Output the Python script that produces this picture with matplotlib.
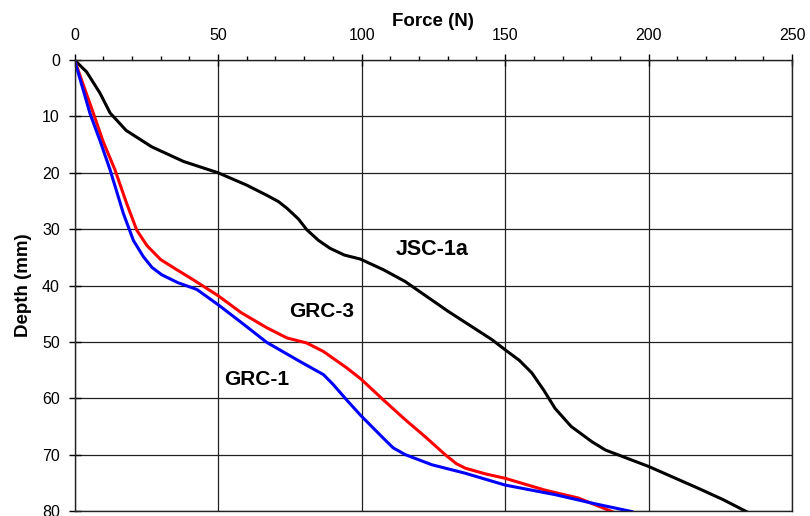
import numpy as np
from matplotlib import pyplot as plt
from matplotlib.ticker import MultipleLocator

plt.rcParams['font.family'] = ['Liberation Sans', 'DejaVu Sans']

# JSC-1a
jsc_force = [0, 4.2, 8.9, 12.4, 18, 26.9, 38, 50, 60, 67, 71, 74, 78, 80.9, 85, 89, 94, 99.5, 107.6, 115.2,
             130.2, 145.4, 150, 155, 159.3, 163.5, 167.4, 173, 180.2, 185, 190.7, 200, 217.4, 226, 234.8]
jsc_depth = [0, 2.1, 5.9, 9.4, 12.5, 15.4, 18, 20, 22.2, 24, 25.1, 26.3, 28.2, 30.1, 32, 33.4, 34.6, 35.3, 37.2, 39.3,
             44.6, 49.6, 51.4, 53.3, 55.5, 58.6, 61.8, 65, 67.7, 69.2, 70.3, 72.1, 76, 78, 80.3]

# GRC-3
grc3_force = [0, 6.6, 10, 14.1, 18.2, 21.7, 25.2, 30, 35, 41.4, 50, 58, 67, 74, 80.9, 86.7,
              94.8, 99.8, 107.6, 115.2, 122.1, 129.1, 133, 136.1, 143, 150, 163.9, 175.5, 187.2]
grc3_depth = [0, 9.5, 14.5, 19.5, 25.5, 30.2, 32.9, 35.4, 37, 39, 41.8, 44.8, 47.5, 49.3, 50.2, 51.7,
              54.6, 56.6, 60.3, 63.8, 66.8, 70, 71.6, 72.4, 73.4, 74.2, 76.3, 77.7, 80.1]

# GRC-1
grc1_force = [0, 5.4, 9, 12.4, 17, 20.5, 24, 27, 30.4, 36, 42.6, 50, 57.7, 67, 78.6, 86.7, 90,
              94.8, 99.8, 107.6, 111, 115.2, 124.5, 136.1, 150, 167.4, 180.2, 194.1]
grc1_depth = [0, 9.5, 14.5, 19.5, 27.2, 32, 34.9, 36.8, 38.1, 39.5, 40.7, 43.4, 46.4, 50.1, 53.5, 55.8, 57.5,
              60.3, 63.1, 67.1, 68.8, 70, 71.8, 73.3, 75.4, 77.1, 78.6, 80.1]

fig = plt.figure(figsize=(8.1, 5.16), dpi=100)
ax = fig.add_axes([0.092, 0.0097, 0.886, 0.874])

ax.plot(jsc_force, jsc_depth, color='black', lw=2.2)
ax.plot(grc3_force, grc3_depth, color='#ff0000', lw=2.2)
ax.plot(grc1_force, grc1_depth, color='#0000ff', lw=2.2)

ax.text(124.6, 33.7, 'JSC-1a', fontsize=15.5, fontweight='bold', ha='center', va='center')
ax.text(86.1, 44.6, 'GRC-3', fontsize=15, fontweight='bold', ha='center', va='center')
ax.text(63.5, 56.7, 'GRC-1', fontsize=15, fontweight='bold', ha='center', va='center')

ax.set_xlim(0, 250)
ax.set_ylim(80, 0)
ax.xaxis.set_major_locator(MultipleLocator(50))
ax.xaxis.set_minor_locator(MultipleLocator(10))
ax.yaxis.set_major_locator(MultipleLocator(10))
ax.xaxis.tick_top()
ax.xaxis.set_label_position('top')
ax.tick_params(axis='x', which='major', direction='inout', length=9, width=1, labelsize=11.5, pad=8)
ax.tick_params(axis='x', which='minor', direction='out', length=3, width=1)
ax.tick_params(axis='y', direction='inout', length=9, width=1, labelsize=11.5, pad=6)
ax.grid(True, which='major', color='#222222', lw=0.9)
for s in ax.spines.values():
    s.set_linewidth(1)
    s.set_color('#222222')

ax.set_xlabel('Force (N)', fontsize=13.5, fontweight='bold', labelpad=1)
ax.set_ylabel('Depth (mm)', fontsize=13.5, fontweight='bold', labelpad=7)

plt.savefig('out.png', dpi=100)
